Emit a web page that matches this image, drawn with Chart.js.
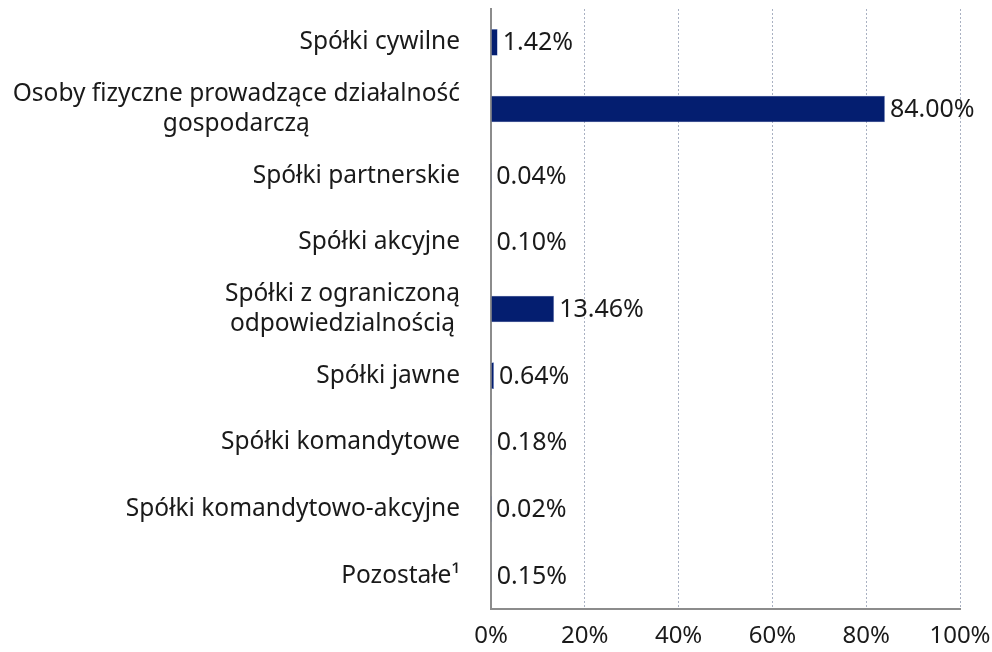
<!DOCTYPE html>
<html>
<head>
<meta charset="utf-8">
<script src="https://cdn.jsdelivr.net/npm/chart.js@4"></script>
<style>
  html, body { margin: 0; padding: 0; background: #fff; }
  #wrap { width: 992px; height: 652px; }
</style>
</head>
<body>
<div id="wrap"><canvas id="chart" width="992" height="652"></canvas></div>
<script>
// datos del grafico
const categories = [
  ["Spółki cywilne"],
  ["Osoby fizyczne prowadzące działalność", "gospodarczą"],
  ["Spółki partnerskie"],
  ["Spółki akcyjne"],
  ["Spółki z ograniczoną", "odpowiedzialnością"],
  ["Spółki jawne"],
  ["Spółki komandytowe"],
  ["Spółki komandytowo-akcyjne"],
  ["Pozostałe¹"]
];
const shares = [1.42, 84.00, 0.04, 0.10, 13.46, 0.64, 0.18, 0.02, 0.15];
const xTicks = [0, 20, 40, 60, 80, 100];

const FONT = "'Noto Sans', sans-serif";
const TEXT = "#1a1a1a";

// etiquetas de valores a la derecha de cada barra
const valueLabels = {
  id: "valueLabels",
  afterDatasetsDraw(chart) {
    const ctx = chart.ctx;
    const meta = chart.getDatasetMeta(0);
    ctx.save();
    ctx.font = "25px " + FONT;
    ctx.fillStyle = TEXT;
    ctx.textAlign = "left";
    ctx.textBaseline = "middle";
    meta.data.forEach((bar, i) => {
      ctx.fillText(shares[i].toFixed(2) + "%", bar.x + 5, bar.y + 1);
    });
    ctx.restore();
  }
};

// etiquetas de categorias, lineas centradas entre si
const categoryLabels = {
  id: "categoryLabels",
  afterDraw(chart) {
    const ctx = chart.ctx;
    const y = chart.scales.y;
    const right = chart.chartArea.left - 31;
    const lh = 30;
    ctx.save();
    ctx.font = "24.5px " + FONT;
    ctx.fillStyle = TEXT;
    ctx.textAlign = "center";
    ctx.textBaseline = "middle";
    categories.forEach((lines, i) => {
      const w = Math.max(...lines.map(l => ctx.measureText(l).width));
      const cx = right - w / 2;
      const cy = y.getPixelForValue(i);
      const top = cy - (lines.length - 1) * lh / 2;
      lines.forEach((l, k) => ctx.fillText(l, cx, top + k * lh));
    });
    ctx.restore();
  }
};

new Chart(document.getElementById("chart"), {
  type: "bar",
  data: {
    labels: categories,
    datasets: [{
      data: shares,
      backgroundColor: "#041e70",
      borderColor: "#7f93c6",
      borderWidth: 0.6,
      categoryPercentage: 1,
      barPercentage: 0.4
    }]
  },
  options: {
    indexAxis: "y",
    responsive: false,
    animation: false,
    layout: { padding: { top: 9, right: 32, bottom: 0, left: 0 } },
    plugins: { legend: { display: false }, tooltip: { enabled: false } },
    scales: {
      x: {
        min: 0,
        max: 100,
        afterBuildTicks: s => { s.ticks = xTicks.map(v => ({ value: v })); },
        afterFit: s => { s.height = 43; s.paddingLeft = 0; s.paddingRight = 0; },
        grid: {
          color: c => c.tick && c.tick.value === 0 ? "rgba(0,0,0,0)" : "#a9b1c2",
          lineWidth: 1,
          drawTicks: false
        },
        border: { display: true, color: "#8c8c8c", width: 2, dash: [2, 2] },
        ticks: {
          padding: 13,
          color: TEXT,
          font: { family: FONT, size: 24 },
          callback: v => v + "%"
        }
      },
      y: {
        afterFit: s => { s.width = 491; },
        grid: { display: false },
        border: { display: true, color: "#8c8c8c", width: 2 },
        ticks: { display: false }
      }
    }
  },
  plugins: [valueLabels, categoryLabels]
});
</script>
</body>
</html>
